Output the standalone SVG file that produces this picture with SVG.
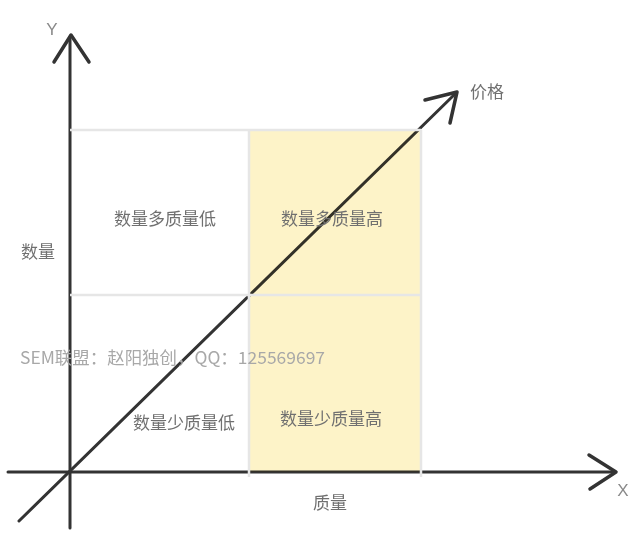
<svg xmlns="http://www.w3.org/2000/svg" width="643" height="538" viewBox="0 0 643 538">
<style>
.t{font-family:"Noto Sans CJK SC","Liberation Sans",sans-serif;font-size:17px;fill:#707070;text-anchor:middle;dominant-baseline:central}
.ax{font-family:"Liberation Sans","Noto Sans",sans-serif;font-size:17px;fill:#8a8a8a;text-anchor:middle;dominant-baseline:central}
.wm{font-family:"Noto Sans CJK SC","Liberation Sans",sans-serif;font-size:17px;fill:#a8a8a8;dominant-baseline:central}
.ln{stroke:#333;stroke-width:3;fill:none;stroke-linecap:round;stroke-linejoin:round}
.arr{stroke:#333;stroke-width:3.5;fill:none;stroke-linecap:round;stroke-linejoin:round}
.grid{stroke:#e6e6e6;stroke-width:2.5;fill:none}
</style>
<rect width="643" height="538" fill="#ffffff"/>
<g id="connectors">
<line class="ln" x1="8" y1="472" x2="614" y2="472"/>
<polyline class="arr" points="589,455 616,472 590,489"/>
<line class="ln" x1="70" y1="528" x2="70" y2="37"/>
<polyline class="arr" points="54,62 71,35 89,62"/>
<line class="ln" x1="19" y1="521" x2="455" y2="94"/>
<polyline class="arr" points="425,100 457,92 450,123"/>
</g>
<g id="quadrant-high-high">
<rect x="249" y="130" width="172" height="342" fill="#fdf3c8" style="mix-blend-mode:multiply"/>
</g>
<g id="grid">
<line class="grid" x1="70" y1="130" x2="421" y2="130"/>
<line class="grid" x1="70" y1="295" x2="421" y2="295"/>
<line class="grid" x1="249" y1="130" x2="249" y2="477"/>
<line class="grid" x1="421" y1="130" x2="421" y2="477"/>
</g>
<g id="label-many-low"><text class="t" x="165" y="217">数量多质量低</text></g>
<g id="label-many-high"><text class="t" x="332" y="217">数量多质量高</text></g>
<g id="label-few-low"><text class="t" x="184" y="421">数量少质量低</text></g>
<g id="label-few-high"><text class="t" x="331" y="417">数量少质量高</text></g>
<g id="axis-labels">
<text class="t" x="38" y="250">数量</text>
<text class="t" x="330" y="501">质量</text>
<text class="t" x="487" y="90">价格</text>
<text class="ax" x="623" y="490">X</text>
<text class="ax" x="52" y="29">Y</text>
</g>
<g id="watermark">
<text class="wm" x="20" y="356" textLength="305" lengthAdjust="spacingAndGlyphs">SEM联盟：赵阳独创，QQ：125569697</text>
</g>
</svg>
